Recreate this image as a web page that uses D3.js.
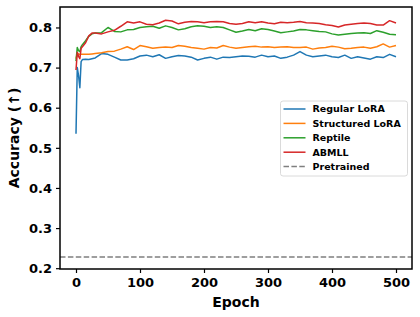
<html>
<head>
<meta charset="utf-8">
<title>Accuracy vs Epoch</title>
<style>
  body { margin: 0; background: #fff; }
  text { font-family: "DejaVu Sans", sans-serif; font-weight: bold; }
  .axis path, .axis line { stroke: #000; }
</style>
</head>
<body>
<script src="https://d3js.org/d3.v7.min.js"></script>
<script>
// ---- data ----
var epochs = [0, 2, 4, 6, 8, 10, 15, 20, 25, 30, 40, 50, 60, 70, 80, 90, 100, 110, 120, 130, 140,
  150, 160, 170, 180, 190, 200, 210, 220, 230, 240, 250, 260, 270, 280, 290, 300, 310, 320, 330,
  340, 350, 360, 370, 380, 390, 400, 410, 420, 430, 440, 450, 460, 470, 480, 490, 500];

var regularLora = [0.535, 0.70, 0.68, 0.65, 0.715, 0.72, 0.721, 0.72, 0.722, 0.724, 0.735, 0.733,
  0.726, 0.719, 0.719, 0.722, 0.729, 0.731, 0.727, 0.732, 0.723, 0.727, 0.730, 0.729, 0.726, 0.719,
  0.723, 0.726, 0.721, 0.726, 0.725, 0.727, 0.729, 0.728, 0.726, 0.731, 0.727, 0.729, 0.723, 0.726,
  0.731, 0.740, 0.731, 0.727, 0.729, 0.731, 0.727, 0.725, 0.731, 0.723, 0.727, 0.724, 0.721, 0.727,
  0.725, 0.733, 0.727];

var structuredLora = [0.722, 0.735, 0.734, 0.733, 0.733, 0.733, 0.733, 0.733, 0.734, 0.735, 0.737,
  0.740, 0.741, 0.746, 0.752, 0.745, 0.755, 0.752, 0.748, 0.750, 0.751, 0.750, 0.755, 0.753, 0.750,
  0.748, 0.746, 0.750, 0.749, 0.755, 0.751, 0.748, 0.750, 0.752, 0.753, 0.751, 0.752, 0.750, 0.751,
  0.752, 0.750, 0.750, 0.751, 0.746, 0.749, 0.750, 0.753, 0.751, 0.747, 0.748, 0.750, 0.751, 0.748,
  0.752, 0.759, 0.751, 0.755];

var reptile = [0.716, 0.750, 0.742, 0.740, 0.752, 0.757, 0.767, 0.778, 0.784, 0.786, 0.787, 0.800,
  0.790, 0.789, 0.794, 0.795, 0.800, 0.802, 0.803, 0.798, 0.804, 0.800, 0.794, 0.797, 0.802, 0.804,
  0.803, 0.800, 0.802, 0.800, 0.794, 0.788, 0.791, 0.795, 0.792, 0.797, 0.795, 0.791, 0.787, 0.789,
  0.791, 0.795, 0.794, 0.792, 0.790, 0.789, 0.784, 0.781, 0.783, 0.785, 0.786, 0.787, 0.785, 0.792,
  0.788, 0.783, 0.782];

var abmll = [0.694, 0.738, 0.728, 0.722, 0.748, 0.752, 0.762, 0.779, 0.786, 0.786, 0.784, 0.789,
  0.793, 0.803, 0.814, 0.811, 0.814, 0.808, 0.807, 0.811, 0.818, 0.816, 0.809, 0.813, 0.815, 0.814,
  0.812, 0.814, 0.815, 0.814, 0.810, 0.808, 0.810, 0.814, 0.812, 0.814, 0.811, 0.809, 0.813, 0.812,
  0.813, 0.815, 0.812, 0.811, 0.810, 0.807, 0.805, 0.801, 0.806, 0.808, 0.810, 0.811, 0.810, 0.806,
  0.806, 0.817, 0.811];

var pretrained = 0.228;

var seriesNames = ["Regular LoRA", "Structured LoRA", "Reptile", "ABMLL"];
var seriesColors = ["#1f77b4", "#ff7f0e", "#2ca02c", "#d62728"];
var xTicks = [0, 100, 200, 300, 400, 500];
var yTicks = [0.2, 0.3, 0.4, 0.5, 0.6, 0.7, 0.8];

// ---- layout ----
var W = 420, H = 317;
var margin = {top: 7, right: 8, bottom: 48, left: 60},
    width  = W - margin.left - margin.right,
    height = H - margin.top - margin.bottom;

var svg = d3.select("body").append("svg")
    .attr("width", W)
    .attr("height", H);

var chart = svg.append("g")
    .attr("transform", "translate(" + margin.left + "," + margin.top + ")");

var xScale = d3.scaleLinear().domain([-25, 525]).range([0, width]);
var yScale = d3.scaleLinear().domain([0.198, 0.851]).range([height, 0]);

var allSeries = [regularLora, structuredLora, reptile, abmll];

var line = d3.line()
    .x(function(d, i){ return xScale(epochs[i]); })
    .y(function(d){ return yScale(d); });

// pretrained baseline (spans the whole axes)
chart.append("line")
    .attr("x1", 0).attr("x2", width)
    .attr("y1", yScale(pretrained)).attr("y2", yScale(pretrained))
    .attr("stroke", "#7f7f7f")
    .attr("stroke-width", 1.5)
    .attr("stroke-dasharray", "5.5,2.4");

chart.selectAll(".series")
    .data(allSeries)
    .enter()
    .append("path")
    .attr("class", "series")
    .attr("fill", "none")
    .attr("stroke", function(d, i){ return seriesColors[i]; })
    .attr("stroke-width", 1.5)
    .attr("stroke-linejoin", "round")
    .attr("d", line);

// axes
var xAxis = chart.append("g")
    .attr("class", "axis")
    .attr("transform", "translate(0," + height + ")")
    .call(d3.axisBottom(xScale).tickValues(xTicks).tickSize(4).tickPadding(5).tickFormat(d3.format("d")));

var yAxis = chart.append("g")
    .attr("class", "axis")
    .call(d3.axisLeft(yScale).tickValues(yTicks).tickSize(4).tickPadding(4).tickFormat(d3.format(".1f")));

[xAxis, yAxis].forEach(function(a){
    a.select(".domain").remove();
    a.selectAll("line").attr("stroke-width", 1.2);
    a.selectAll("text")
        .style("font-size", "13px")
        .style("font-family", "DejaVu Sans")
        .style("font-weight", "bold")
        .attr("fill", "#000");
});

// frame
chart.append("rect")
    .attr("width", width).attr("height", height)
    .attr("fill", "none")
    .attr("stroke", "#000")
    .attr("stroke-width", 1.5);

// axis labels
svg.append("text")
    .attr("x", margin.left + width / 2)
    .attr("y", 307)
    .attr("text-anchor", "middle")
    .style("font-size", "14px")
    .text("Epoch");

svg.append("text")
    .attr("transform", "translate(19," + (margin.top + height / 2) + ") rotate(-90)")
    .attr("text-anchor", "middle")
    .style("font-size", "14px")
    .text("Accuracy (↑)");

// legend
var legend = chart.append("g")
    .attr("transform", "translate(" + (280.5 - margin.left) + "," + (101 - margin.top) + ")");

legend.append("rect")
    .attr("width", 127).attr("height", 75)
    .attr("rx", 2.5)
    .attr("fill", "#fff").attr("fill-opacity", 0.8)
    .attr("stroke", "#d0d0d0").attr("stroke-width", 0.8);

var legendNames = seriesNames.concat(["Pretrained"]);
var legendColors = seriesColors.concat(["#7f7f7f"]);

var items = legend.selectAll(".item")
    .data(legendNames)
    .enter()
    .append("g")
    .attr("class", "item")
    .attr("transform", function(d, i){ return "translate(0," + (8 + i * 14.4) + ")"; });

items.append("line")
    .attr("x1", 3).attr("x2", 25)
    .attr("stroke", function(d, i){ return legendColors[i]; })
    .attr("stroke-width", 1.5)
    .attr("stroke-dasharray", function(d, i){ return i === 4 ? "5.5,2.4" : null; });

items.append("text")
    .attr("x", 32)
    .attr("dy", "0.35em")
    .style("font-size", "9.5px")
    .text(function(d){ return d; });
</script>
</body>
</html>
